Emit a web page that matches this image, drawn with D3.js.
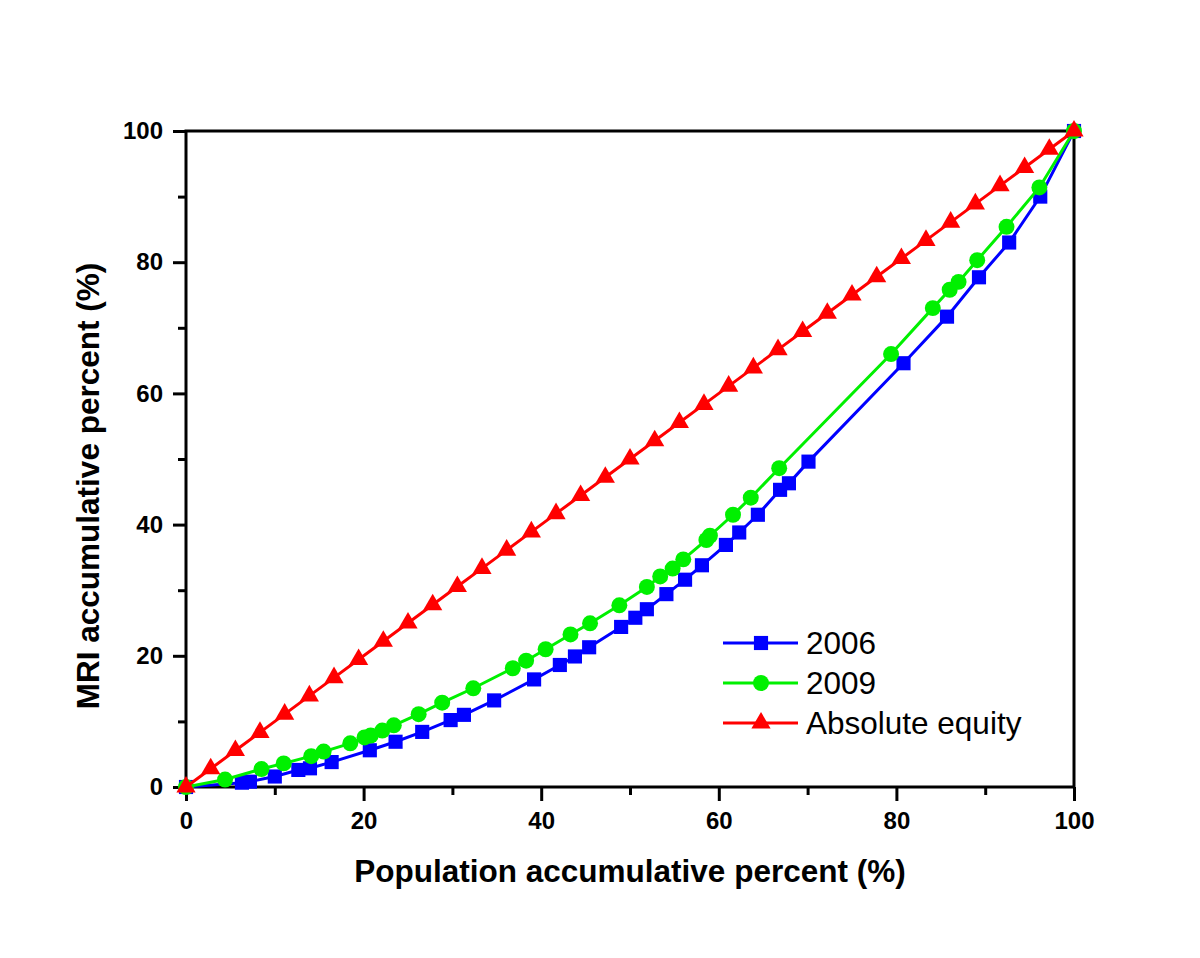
<!DOCTYPE html>
<html>
<head>
<meta charset="utf-8">
<script src="https://cdn.jsdelivr.net/npm/d3@7"></script>
<style>
  html, body { margin: 0; padding: 0; background: #fff; }
  svg { display: block; }
</style>
</head>
<body>
<div id="chart"></div>
<script>
// Lorenz-style curves, values
const x2006 = [0, 6.3, 7.2, 10.0, 12.65, 13.96, 16.4, 20.7, 23.6, 26.6, 29.8, 31.3, 34.7, 39.2, 42.1, 43.8, 45.4, 49.0, 50.6, 51.9, 54.1, 56.2, 58.1, 60.8, 62.3, 64.4, 66.9, 67.9, 70.1, 80.8, 85.7, 89.3, 92.7, 96.2, 100];
const y2006 = [0, 0.66, 0.81, 1.6, 2.6, 2.85, 3.8, 5.6, 6.9, 8.4, 10.2, 11.0, 13.2, 16.4, 18.6, 19.9, 21.3, 24.4, 25.8, 27.1, 29.4, 31.6, 33.8, 36.9, 38.8, 41.5, 45.3, 46.3, 49.6, 64.6, 71.7, 77.7, 83.0, 90.0, 100];

const x2009 = [0, 4.4, 8.5, 11.0, 14.1, 15.5, 18.5, 20.1, 20.8, 22.1, 23.4, 26.2, 28.85, 32.35, 36.8, 38.3, 40.5, 43.3, 45.5, 48.8, 51.9, 53.4, 54.8, 56.0, 58.6, 59.0, 61.6, 63.6, 66.8, 79.4, 84.1, 86.0, 87.0, 89.1, 92.4, 96.1, 100];
const y2009 = [0, 1.14, 2.74, 3.6, 4.7, 5.4, 6.66, 7.55, 7.85, 8.6, 9.4, 11.1, 12.85, 15.05, 18.1, 19.25, 21.0, 23.25, 24.95, 27.7, 30.5, 32.1, 33.3, 34.7, 37.65, 38.3, 41.5, 44.1, 48.6, 66.0, 73.0, 75.8, 77.0, 80.3, 85.4, 91.4, 100];

// absolute equity: y equals x
const equityPct = [0, 2.78, 5.56, 8.33, 11.11, 13.89, 16.67, 19.44, 22.22, 25, 27.78, 30.56, 33.33, 36.11, 38.89, 41.67, 44.44, 47.22, 50, 52.78, 55.56, 58.33, 61.11, 63.89, 66.67, 69.44, 72.22, 75, 77.78, 80.56, 83.33, 86.11, 88.89, 91.67, 94.44, 97.22, 100];

const majorTicks = [0, 20, 40, 60, 80, 100];
const minorTicks = [10, 30, 50, 70, 90];

const seriesNames = ["2006", "2009", "Absolute equity"];

const W = 1200, H = 958;
const margin = { top: 131, left: 186, right: 1200 - 1074, bottom: 958 - 787 };
const width = W - margin.left - margin.right;
const height = H - margin.top - margin.bottom;
const fontFamily = "'Liberation Sans', Arial, sans-serif";

const series = [
    { name: seriesNames[0], color: "#0000ff", symbol: d3.symbolSquare, size: 200,
      points: x2006.map((x, i) => ({ x, y: y2006[i] })) },
    { name: seriesNames[1], color: "#00f000", symbol: d3.symbolCircle, size: 200,
      points: x2009.map((x, i) => ({ x, y: y2009[i] })) },
    { name: seriesNames[2], color: "#ff0000", symbol: d3.symbolTriangle, size: 160,
      points: equityPct.map(v => ({ x: v, y: v })) }
];

const x = d3.scaleLinear().domain([0, 100]).range([0, width]);
const y = d3.scaleLinear().domain([0, 100]).range([height, 0]);

const svg = d3.select("#chart").append("svg")
    .attr("width", W)
    .attr("height", H)
    .style("font-family", fontFamily);

svg.append("rect").attr("width", W).attr("height", H).attr("fill", "#fff");

const g = svg.append("g")
    .attr("transform", `translate(${margin.left},${margin.top})`);

// minor ticks (no labels)
g.append("g")
    .attr("transform", `translate(0,${height})`)
    .call(d3.axisBottom(x).tickValues(minorTicks).tickSize(8).tickFormat(""))
    .call(a => a.select(".domain").remove())
    .selectAll("line").attr("stroke", "#000").attr("stroke-width", 3);

g.append("g")
    .call(d3.axisLeft(y).tickValues(minorTicks).tickSize(8).tickFormat(""))
    .call(a => a.select(".domain").remove())
    .selectAll("line").attr("stroke", "#000").attr("stroke-width", 3);

// major ticks
const xAxis = g.append("g")
    .attr("transform", `translate(0,${height})`)
    .call(d3.axisBottom(x).tickValues(majorTicks).tickSize(14).tickPadding(11).tickFormat(d3.format("d")));
xAxis.select(".domain").remove();
xAxis.selectAll("line").attr("stroke", "#000").attr("stroke-width", 3);
xAxis.selectAll("text")
    .attr("fill", "#000")
    .style("font-size", "24px")
    .style("font-weight", "bold")
    .style("font-family", fontFamily);

const yAxis = g.append("g")
    .call(d3.axisLeft(y).tickValues(majorTicks).tickSize(13).tickPadding(10).tickFormat(d3.format("d")));
yAxis.select(".domain").remove();
yAxis.selectAll("line").attr("stroke", "#000").attr("stroke-width", 3);
yAxis.selectAll("text")
    .attr("fill", "#000")
    .style("font-size", "24px")
    .style("font-weight", "bold")
    .style("font-family", fontFamily);

// frame
g.append("rect")
    .attr("width", width)
    .attr("height", height)
    .attr("fill", "none")
    .attr("stroke", "#000")
    .attr("stroke-width", 3);

// series: line then markers
const line = d3.line().x(d => x(d.x)).y(d => y(d.y));

series.forEach(s => {
    const sg = g.append("g").attr("class", "series");
    sg.append("path")
        .datum(s.points)
        .attr("d", line)
        .attr("fill", "none")
        .attr("stroke", s.color)
        .attr("stroke-width", 3);
    sg.selectAll("path.marker")
        .data(s.points)
        .enter()
        .append("path")
        .attr("class", "marker")
        .attr("d", d3.symbol().type(s.symbol).size(s.size))
        .attr("transform", d => `translate(${x(d.x)},${y(d.y)})`)
        .attr("fill", s.color);
});

// legend
const legend = g.append("g")
    .attr("class", "legend")
    .attr("transform", `translate(${723 - margin.left},${643 - margin.top})`);

const rowH = 40;
series.forEach((s, i) => {
    const row = legend.append("g").attr("transform", `translate(0,${i * rowH})`);
    row.append("line")
        .attr("x1", 0).attr("x2", 75)
        .attr("y1", 0).attr("y2", 0)
        .attr("stroke", s.color)
        .attr("stroke-width", 3);
    row.append("path")
        .attr("d", d3.symbol().type(s.symbol).size(s.size))
        .attr("transform", "translate(38,0)")
        .attr("fill", s.color);
    row.append("text")
        .text(s.name)
        .attr("x", 83)
        .attr("y", 11)
        .attr("fill", "#000")
        .style("font-size", "31.5px")
        .style("font-family", fontFamily);
});

// axis titles
svg.append("text")
    .text("Population accumulative percent (%)")
    .attr("x", margin.left + width / 2)
    .attr("y", 882)
    .attr("text-anchor", "middle")
    .style("font-size", "31.5px")
    .style("font-weight", "bold")
    .attr("fill", "#000");

svg.append("text")
    .text("MRI accumulative percent (%)")
    .attr("transform", "translate(98.5,486) rotate(-90)")
    .attr("text-anchor", "middle")
    .style("font-size", "31.5px")
    .style("font-weight", "bold")
    .attr("fill", "#000");
</script>
</body>
</html>
